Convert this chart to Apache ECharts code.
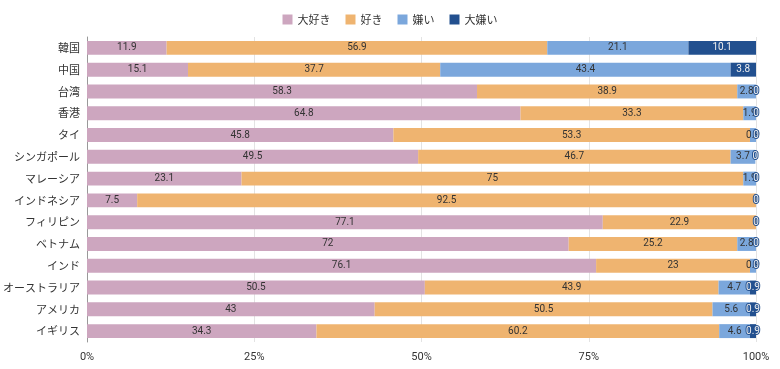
<!DOCTYPE html>
<html><head><meta charset="utf-8">
<script src="https://cdn.jsdelivr.net/npm/echarts@6/dist/echarts.min.js"></script>
<style>html,body{margin:0;padding:0;background:#fff}#c{width:780px;height:369px}</style>
</head><body><div id="c"></div>
<script>
const categories = ['韓国','中国','台湾','香港','タイ','シンガポール','マレーシア','インドネシア','フィリピン','ベトナム','インド','オーストラリア','アメリカ','イギリス'];
const seriesNames = ['大好き','好き','嫌い','大嫌い'];
const daisuki = [11.9,15.1,58.3,64.8,45.8,49.5,23.1,7.5,77.1,72,76.1,50.5,43,34.3];
const suki    = [56.9,37.7,38.9,33.3,53.3,46.7,75,92.5,22.9,25.2,23,43.9,50.5,60.2];
const kirai   = [21.1,43.4,2.8,1.9,0.9,3.7,1.9,0,0,2.8,0.9,4.7,5.6,4.6];
const daikirai= [10.1,3.8,0,0,0,0,0,0,0,0,0,0.9,0.9,0.9];
const xTicks = [0,25,50,75,100];

const colors = ['#cda6bf','#efb470','#7ba7dc','#22508f'];
const data = [daisuki, suki, kirai, daikirai];
const font = '"Noto Sans CJK JP", "Noto Sans", sans-serif';
const numFont = 'Roboto, "Noto Sans", sans-serif';
const chart = echarts.init(document.getElementById('c'));
chart.setOption({
  animation:false,
  color: colors,
  textStyle:{fontFamily:font},
  legend:{top:9,left:'center',itemWidth:10,itemHeight:10,itemGap:15,icon:'rect',
    textStyle:{fontSize:11,color:'#333',fontFamily:font},data:seriesNames},
  grid:{left:87,right:24,top:37,bottom:27,containLabel:false,outerBoundsMode:'none'},
  xAxis:{type:'value',min:xTicks[0],max:xTicks[xTicks.length-1],interval:25,
    axisLabel:{formatter:'{value}%',fontSize:11,color:'#333',margin:10,fontFamily:numFont},
    axisLine:{show:false},axisTick:{show:false},
    splitLine:{lineStyle:{color:'#e3e3e3'}}},
  yAxis:{type:'category',data:categories,inverse:true,
    axisLine:{show:true,lineStyle:{color:'#999'}},axisTick:{show:false},
    axisLabel:{fontSize:11,color:'#333',margin:7,fontFamily:font}},
  series: seriesNames.map((n,i)=>({
    name:n,type:'bar',stack:'total',barWidth:'64%',
    data:data[i],
    label:{show:true,position:'inside',fontSize:10,fontFamily:numFont}
  }))
});
</script></body></html>
